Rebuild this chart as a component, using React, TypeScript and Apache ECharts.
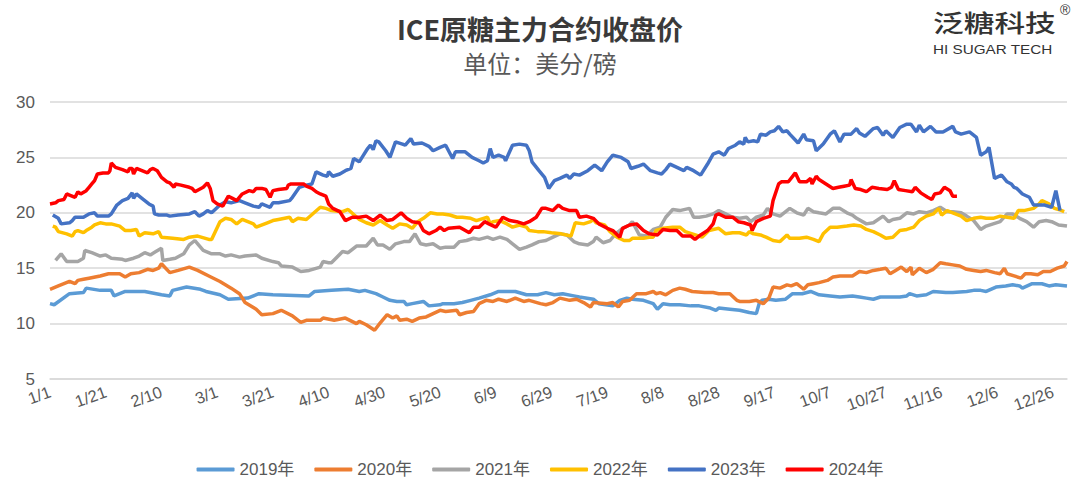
import { useEffect, useRef } from "react";
import * as echarts from "echarts";

// Series names and colours
const years = ["2019年", "2020年", "2021年", "2022年", "2023年", "2024年"];
const colors = ["#5B9BD5", "#ED7D31", "#A5A5A5", "#FFC000", "#4472C4", "#FF0000"];

// Day-of-year tick labels (leap-year calendar, 1/1 .. 12/31)
const dayLabels: string[] = [];
for (let i = 0; i < 366; i++) {
  const dt = new Date(2024, 0, 1 + i);
  dayLabels.push(`${dt.getMonth() + 1}/${dt.getDate()}`);
}

// Closing prices, [day of year, cents/lb]
const y2019: [number, number][] = [
  [0, 11.8], [1.5, 11.7], [7, 12.7], [12, 12.8], [13, 13.2], [18, 13.0], [22, 13.0], [23, 12.5], [27, 12.9], [34, 12.9],
  [40, 12.6], [43, 12.5], [44, 13.0], [49, 13.3], [54, 13.1], [56, 12.9], [61, 12.6], [64, 12.2], [71, 12.3], [75, 12.7],
  [80, 12.6], [93, 12.5], [95, 12.9], [101, 13.0], [107, 13.1], [111, 12.9], [113, 13.0], [117, 12.7], [119.5, 12.4],
  [122, 12.1], [124.5, 12.0], [127, 12.0], [128, 11.7], [130, 11.8], [134, 12.0], [136, 11.6], [140, 11.7], [141, 11.8],
  [145, 11.8], [148, 11.9], [151, 12.1], [154, 12.3], [158, 12.6], [161, 12.9], [165, 12.9], [167, 12.9], [171, 12.6],
  [175, 12.6], [178, 12.8], [181, 12.6], [184, 12.7], [188, 12.5], [190, 12.4], [195, 12.2], [197, 11.8], [202, 11.6],
  [204.5, 12.1], [207, 12.3], [209, 12.2], [213, 12.1], [216.5, 11.8], [218, 11.3], [220, 11.8], [222.5, 11.7],
  [226, 11.7], [230, 11.6], [233, 11.6], [237, 11.4], [239, 11.2], [240, 11.4], [244, 11.3], [247.5, 11.2], [251, 11.0],
  [253.5, 10.9], [254.5, 11.8], [255.5, 12.1], [258, 12.2], [260.5, 12.1], [264, 12.2], [266.5, 12.7], [270, 12.7],
  [273, 12.9], [276, 12.6], [280, 12.5], [283.5, 12.4], [288, 12.5], [290.5, 12.4], [293, 12.3], [295.5, 12.2],
  [298, 12.4], [301.5, 12.4], [305, 12.4], [307.5, 12.5], [308.5, 12.7], [311, 12.5], [314.5, 12.6], [317, 12.9],
  [321.5, 12.8], [324, 12.8], [329, 12.9], [331.5, 13.0], [334, 13.0], [336, 12.9], [339.5, 13.3], [343, 13.4],
  [345.5, 13.5], [348, 13.4], [349, 13.2], [352.5, 13.6], [356, 13.6], [358.5, 13.4], [361, 13.5], [365, 13.4],
];

const y2020: [number, number][] = [
  [0, 13.1], [3, 13.4], [7, 13.8], [9, 13.6], [10, 13.9], [12, 14.0], [14, 14.1], [18, 14.3], [21, 14.5], [25, 14.5],
  [27, 14.2], [29, 14.5], [32, 14.6], [35, 14.9], [37, 14.8], [39, 15.0], [40, 15.4], [43, 14.6], [46, 14.8], [50, 15.1],
  [53, 14.8], [57, 14.3], [61, 13.8], [65, 13.2], [68, 12.7], [70, 11.9], [74, 11.3], [76, 10.8], [80, 10.9], [83, 11.2],
  [87, 10.7], [90, 10.1], [92, 10.3], [97, 10.3], [98, 10.5], [102, 10.3], [106, 10.5], [110, 10.0], [111, 10.2],
  [113.5, 9.9], [116.5, 9.4], [118, 9.9], [121, 10.8], [123, 10.5], [124.5, 10.7], [125.5, 10.3], [128, 10.4],
  [130, 10.2], [132.5, 10.5], [135, 10.6], [137.5, 10.9], [140, 11.2], [142, 11.1], [146, 11.2], [147, 10.8],
  [149.5, 11.0], [152, 11.1], [154, 11.8], [156.5, 12.1], [159, 12.0], [161, 12.2], [164, 12.0], [167, 12.3],
  [170, 12.0], [172, 12.1], [176, 11.8], [178, 11.7], [180.5, 11.9], [183, 12.3], [186.5, 12.1], [189, 12.2],
  [191.5, 11.9], [194, 11.5], [195, 11.9], [200, 11.8], [202, 11.9], [204, 11.5], [205.5, 12.0], [208, 12.1],
  [210.5, 12.7], [214, 12.7], [216.5, 12.9], [217.5, 12.7], [219, 12.8], [221, 12.6], [223.5, 13.0], [226, 13.2],
  [228, 13.1], [230.5, 12.9], [235, 12.8], [238, 12.8], [240, 12.7], [244, 12.7], [246.5, 12.1], [247.5, 12.0],
  [251, 12.0], [253.5, 12.1], [256, 11.8], [258, 12.3], [259.5, 13.3], [262, 13.2], [264.5, 13.5], [266, 13.4],
  [268, 13.6], [270.5, 13.1], [272, 13.5], [274, 13.6], [276, 13.7], [279, 13.9], [281, 14.2], [283.5, 14.3],
  [286, 14.3], [288, 14.3], [290.5, 14.7], [293, 14.6], [295.5, 14.8], [298, 14.9], [300, 15.0], [301.5, 14.5],
  [303.5, 14.8], [305.5, 15.1], [307.5, 14.7], [309, 15.1], [309.5, 14.4], [312, 15.0], [314.5, 14.6], [317, 14.9],
  [319.5, 15.5], [321.5, 15.4], [324, 15.3], [326.5, 15.2], [329, 14.9], [331.5, 14.8], [334, 14.7], [336, 14.8],
  [339, 14.6], [341, 14.5], [342.5, 15.0], [343.5, 14.5], [346, 14.3], [348.5, 14.1], [350, 14.5], [352, 14.5],
  [354.5, 14.4], [356.5, 14.7], [359, 14.7], [361.5, 15.0], [364, 15.2], [365, 15.6],
];

const y2021: [number, number][] = [
  [2, 15.7], [3, 16.0], [4, 16.3], [6, 15.6], [8, 15.6], [10, 15.6], [12, 15.9], [12.5, 16.6], [15, 16.4], [18, 16.1],
  [20, 16.2], [22, 15.9], [26, 15.8], [27, 15.7], [30, 15.9], [32, 16.1], [34, 16.4], [36, 16.2], [38, 16.5], [40, 16.8],
  [40.5, 15.7], [43, 15.8], [45, 15.9], [48, 16.3], [50, 17.1], [52, 17.5], [53, 17.2], [55, 16.6], [58, 16.3],
  [61, 16.3], [63, 16.1], [65, 16.2], [68, 16.0], [70, 16.1], [74, 16.2], [76, 15.9], [80, 15.6], [82, 15.5],
  [83, 15.2], [87, 15.1], [90, 14.7], [93, 14.8], [97, 15.1], [98, 15.6], [100, 15.5], [101, 15.5], [105, 16.5],
  [107, 16.4], [110, 17.0], [113.5, 17.0], [116, 17.7], [117.5, 17.1], [119.5, 17.1], [122, 16.7], [124, 17.2],
  [127, 17.4], [129, 17.4], [131, 18.1], [133, 17.2], [135, 17.1], [137.5, 17.2], [140, 16.8], [142, 16.9],
  [145, 16.9], [147, 17.4], [149.5, 17.5], [152, 17.7], [154, 17.6], [157, 17.8], [159, 17.6], [161.5, 17.8],
  [164, 17.6], [166, 17.2], [168.5, 16.7], [171, 16.9], [173, 17.1], [175.5, 17.4], [178, 17.5], [180.5, 17.8],
  [183, 18.1], [185.5, 18.0], [188, 17.4], [190, 17.2], [193, 17.1], [195, 17.4], [196, 17.8], [198.5, 17.3],
  [201, 17.5], [203, 18.1], [205.5, 18.6], [208, 18.9], [209, 19.2], [211.5, 18.0], [214, 17.9], [216.5, 18.5],
  [219, 18.7], [221, 19.6], [223.5, 20.3], [226, 20.2], [229.5, 20.4], [231, 19.6], [233, 19.6], [235.5, 19.7],
  [238, 19.9], [240, 20.2], [242.5, 19.9], [245, 19.6], [247.5, 19.5], [250, 19.6], [251.5, 19.2], [253.5, 19.6],
  [256, 19.8], [257.5, 20.4], [259.5, 19.9], [262, 19.7], [265.5, 20.4], [268, 20.0], [270.5, 19.8], [272, 20.4],
  [274, 20.1], [276, 20.0], [278.5, 19.9], [281, 20.4], [283.5, 20.4], [286, 20.0], [288, 19.8], [289.5, 19.5],
  [293, 19.0], [295.5, 19.1], [299, 19.7], [301, 19.2], [302.5, 19.4], [305, 19.5], [307.5, 20.0], [310, 19.9],
  [312, 20.1], [314.5, 20.0], [317, 20.2], [319.5, 20.5], [322, 20.1], [324, 20.1], [327, 20.0], [329, 19.7],
  [331.5, 19.3], [334, 18.5], [336, 18.8], [338.5, 19.0], [341, 19.2], [343.5, 19.9], [345.5, 19.9], [348, 19.5],
  [350.5, 19.2], [353, 18.7], [355, 19.2], [357.5, 19.3], [359.5, 19.2], [362, 18.9], [365, 18.8],
];

const y2022: [number, number][] = [
  [1, 18.8], [2, 18.7], [3, 18.3], [6, 18.1], [8, 17.9], [9, 18.3], [10, 18.4], [12, 18.2], [13, 18.4], [15, 18.7],
  [16, 18.9], [18, 19.1], [20, 19.0], [22, 19.0], [25, 18.8], [27, 18.4], [29, 18.4], [31, 18.5], [32, 17.9],
  [34, 18.2], [37, 18.1], [39, 18.3], [40, 17.8], [44, 17.7], [48, 17.6], [50, 17.8], [53, 17.9], [57, 17.6],
  [58, 17.6], [61, 19.2], [63, 19.5], [65, 19.4], [67, 19.0], [69, 19.4], [73, 19.0], [74, 18.7], [78, 19.1],
  [80, 19.3], [82, 19.4], [86, 19.6], [87, 19.2], [89, 19.5], [92, 19.4], [97, 20.5], [99, 20.4], [101, 20.2],
  [105, 20.1], [107, 20.3], [111, 19.4], [113.5, 19.1], [116, 18.9], [118.5, 19.3], [121, 18.9], [123, 18.6],
  [125.5, 19.0], [128, 18.9], [130, 18.6], [132, 19.2], [134, 19.5], [136.5, 20.0], [139, 19.9], [141, 19.9],
  [143.5, 19.8], [146, 19.6], [148, 19.6], [151, 19.5], [153, 19.3], [157, 19.6], [158, 19.0], [159, 19.2],
  [161.5, 19.3], [164, 19.0], [166, 18.7], [168.5, 18.9], [171, 18.7], [172, 18.4], [175, 18.3], [177, 18.3],
  [180, 18.2], [183.5, 18.1], [187, 17.9], [188.5, 19.1], [191.5, 19.0], [194, 19.2], [195, 19.4], [196, 19.1],
  [199, 18.9], [201, 18.3], [203.5, 17.8], [206, 17.5], [208, 17.5], [209, 17.7], [213, 17.7], [215, 17.8],
  [216.5, 17.8], [217.5, 18.4], [220, 18.6], [223.5, 18.7], [226, 18.7], [228, 18.3], [230.5, 18.1], [233, 17.9],
  [234, 17.8], [236.5, 18.4], [240, 18.6], [242.5, 18.1], [245, 18.2], [247.5, 18.2], [250, 18.0], [251, 18.3],
  [252.5, 18.1], [255, 18.0], [257, 17.8], [259.5, 17.5], [262, 17.4], [264.5, 18.0], [265.5, 17.7], [269, 17.7],
  [271.5, 17.8], [274, 17.6], [276, 17.4], [277.5, 18.1], [280, 18.7], [282.5, 18.7], [286, 18.8], [288.5, 18.9],
  [291, 18.8], [293, 18.5], [295.5, 18.3], [298, 18.0], [300, 17.7], [302.5, 17.8], [305, 18.4], [307.5, 18.5],
  [310, 18.7], [312, 19.3], [314.5, 19.7], [317, 19.9], [319, 20.4], [320, 19.8], [322, 20.2], [324, 20.0],
  [327, 19.7], [329, 19.3], [331.5, 19.5], [334, 19.6], [336, 19.5], [338.5, 19.5], [341, 19.7], [343.5, 19.6],
  [346, 19.5], [347.5, 20.2], [349.5, 20.2], [353, 20.4], [355, 20.8], [356, 21.1], [358.5, 20.8], [360.5, 20.4],
  [362, 20.3], [364, 20.1],
];

const y2023: [number, number][] = [
  [1, 19.8], [3, 19.5], [4, 19.0], [7, 19.1], [8, 19.3], [9, 19.6], [12, 19.6], [14, 19.9], [16, 20.0], [17, 19.7],
  [21, 19.7], [22, 19.9], [24, 20.7], [26, 21.1], [28, 21.3], [29.5, 21.8], [30, 21.3], [31, 21.7], [33, 21.3],
  [35.5, 20.8], [37, 20.6], [37.5, 19.9], [39, 19.8], [42, 19.8], [43, 19.7], [46, 19.8], [50, 19.9], [52, 20.1],
  [53.5, 19.7], [55, 19.9], [56.5, 20.2], [58, 20.0], [61, 20.7], [63, 21.0], [65, 20.9], [68, 21.1], [70, 20.9],
  [73, 20.6], [75, 20.5], [76, 20.8], [79, 20.5], [80, 20.9], [82, 20.9], [86, 21.1], [87, 21.4], [89.5, 22.3],
  [92, 22.5], [94, 22.6], [95.5, 23.7], [98, 23.4], [99.5, 23.3], [100, 23.7], [101.5, 23.3], [104, 23.5], [106, 23.8],
  [108, 24.0], [109, 24.9], [111, 24.6], [112, 25.0], [114, 25.8], [115, 26.1], [116, 25.7], [117, 26.5], [118, 26.4],
  [120.5, 25.6], [122, 25.0], [124, 26.4], [126.5, 26.2], [127.5, 26.1], [129.5, 26.7], [130.5, 26.2], [133.5, 26.3],
  [136, 26.0], [137.5, 25.6], [140, 25.9], [142, 26.1], [144.5, 24.9], [145.5, 25.5], [149, 25.5], [151.5, 25.0],
  [154, 24.7], [155.5, 24.5], [157, 24.7], [158, 25.8], [159, 25.0], [161, 25.2], [163, 25.0], [163.5, 24.7],
  [166, 26.1], [168.5, 26.2], [171, 26.1], [172, 25.6], [173, 24.6], [175.5, 23.8], [177.5, 23.2], [179, 22.2],
  [181, 22.9], [183, 23.1], [185.5, 23.4], [186.5, 23.1], [188, 23.5], [190, 23.4], [193, 23.8], [195.5, 24.3],
  [198, 23.8], [200, 24.6], [202, 25.2], [205, 25.0], [207.5, 24.6], [208.5, 24.0], [211, 24.2], [213, 24.4],
  [215.5, 23.8], [218, 23.6], [219.5, 23.5], [221, 23.9], [222.5, 24.4], [225, 24.1], [227.5, 23.8], [228.5, 24.1],
  [231, 23.8], [233.5, 23.4], [236, 24.4], [238, 25.3], [240, 25.5], [242, 25.2], [243.5, 25.8], [246, 26.1],
  [247.5, 26.4], [249, 26.2], [249.5, 26.8], [250.5, 26.4], [252.5, 26.5], [254, 26.4], [255, 27.1], [257, 27.0],
  [258.5, 27.3], [260, 27.4], [261.5, 27.8], [263, 27.3], [264.5, 27.4], [265.5, 27.1], [268.5, 26.3], [270.5, 27.1],
  [271.5, 26.6], [274, 26.5], [275, 25.6], [277.5, 26.2], [280, 27.1], [281.5, 27.4], [283.5, 26.4], [285, 27.1],
  [287.5, 27.1], [289.5, 27.6], [290.5, 27.2], [292.5, 26.9], [295.5, 27.6], [297, 27.7], [299, 27.0], [300, 27.4],
  [302.5, 26.8], [305, 27.7], [307.5, 28.0], [309, 28.0], [311, 27.3], [312, 27.9], [313.5, 27.3], [316, 27.8],
  [318, 27.3], [320.5, 27.3], [324, 27.8], [325, 27.3], [327, 27.1], [330, 27.3], [332.5, 26.8], [334, 25.2],
  [336, 25.5], [337, 25.9], [339, 23.1], [341.5, 23.4], [343.5, 22.8], [345, 22.6], [346, 22.3], [347, 22.2],
  [349, 21.7], [351.5, 21.4], [353, 20.7], [355, 20.7], [357, 20.7], [359.5, 20.5], [361, 22.0], [362.5, 20.2],
];

const y2024: [number, number][] = [
  [0, 20.8], [2, 20.9], [3, 21.1], [5, 21.2], [6, 21.7], [7, 21.6], [9, 21.4], [10, 21.9], [11, 21.7], [13, 22.0],
  [14, 22.3], [15, 22.6], [16, 22.9], [17, 23.5], [19, 23.6], [21, 23.6], [21.5, 23.8], [22, 24.5], [23.5, 24.1],
  [26, 23.9], [28, 23.7], [28.5, 24.0], [29.5, 24.0], [30, 23.5], [31, 24.0], [33, 23.8], [35, 23.6], [36, 23.9],
  [37, 24.0], [38.5, 23.8], [40, 23.2], [42, 22.8], [43, 22.7], [44.5, 22.3], [45, 22.6], [47, 22.5], [50, 22.3],
  [51, 22.2], [52, 21.9], [53.5, 22.1], [55, 22.3], [56.5, 22.7], [57.5, 22.2], [58.5, 21.1], [60, 20.8], [62, 20.6],
  [64, 21.5], [65.5, 21.3], [67, 21.1], [69, 21.7], [71.5, 22.0], [73, 21.9], [74, 22.2], [76, 22.2], [77.5, 22.1],
  [79, 21.4], [80, 22.0], [82, 22.1], [85, 22.2], [85.5, 22.5], [86.5, 22.6], [87.5, 22.6], [90, 22.6], [91, 22.6],
  [92, 22.4], [94, 22.2], [95.5, 21.9], [97, 21.7], [99, 21.5], [100, 20.8], [101.5, 20.4], [104, 20.1], [106, 19.3],
  [108.5, 19.6], [111, 19.6], [113.5, 19.7], [116, 19.3], [118.5, 19.8], [121, 19.3], [123, 19.4], [126, 20.0],
  [128, 19.5], [130, 19.2], [132.5, 19.1], [134, 18.4], [136, 18.1], [138.5, 18.4], [140, 18.7], [141.5, 18.4],
  [143, 18.6], [147, 18.7], [150.5, 18.2], [152, 18.7], [154, 18.7], [156, 19.2], [157.5, 19.0], [160, 18.7],
  [162.5, 19.6], [165, 19.3], [167.5, 19.2], [170, 19.0], [172, 19.2], [174.5, 19.6], [176.5, 20.4], [178, 20.4],
  [180.5, 20.2], [182.5, 20.7], [184, 20.4], [186.5, 20.2], [189, 20.2], [190, 19.6], [192.5, 19.7], [195, 19.5],
  [197, 19.0], [200, 18.6], [202, 18.4], [204.5, 17.8], [205.5, 18.6], [208, 18.9], [210.5, 19.0], [213, 18.4],
  [215, 18.1], [218, 18.0], [220, 18.5], [222.5, 18.4], [225, 18.4], [227, 17.9], [230, 17.9], [231.5, 17.6],
  [233.5, 18.0], [236, 18.4], [238, 19.0], [239, 19.8], [240, 19.9], [242.5, 19.6], [245, 19.6], [247, 19.2],
  [249, 19.1], [251.5, 18.9], [252, 18.4], [253.5, 19.2], [256, 19.5], [258.5, 19.7], [259.5, 21.1], [261.5, 22.6],
  [262.5, 22.8], [265, 22.8], [267.5, 23.6], [269, 22.8], [271.5, 22.8], [273, 23.1], [273.5, 22.6], [275, 23.3],
  [276, 23.0], [278.5, 22.6], [281, 22.2], [283, 22.3], [285, 22.4], [287, 22.5], [287.5, 23.0], [289, 22.2],
  [291, 22.1], [293, 21.9], [295, 22.3], [297.5, 22.2], [300.5, 22.1], [302, 22.3], [303, 22.9], [304.5, 22.1],
  [307, 22.0], [309.5, 21.9], [310.5, 22.3], [312.5, 21.8], [315, 21.4], [316.5, 21.2], [317.5, 21.7], [319.5, 21.8],
  [321, 22.3], [323, 22.0], [324, 21.5], [325.5, 21.5],
];

const seriesData = [y2019, y2020, y2021, y2022, y2023, y2024];

// Y-axis scale (cents/lb)
const yMin = 5;
const yMax = 30;
const yStep = 5;

export default function App() {
  const ref = useRef<HTMLDivElement>(null);

  useEffect(() => {
    if (!ref.current) return;
    const chart = echarts.init(ref.current, undefined, { renderer: "svg" });
    const cjk = "'Noto Sans CJK SC', 'Noto Sans', sans-serif";
    const latin = "'Liberation Sans', Arial, 'Noto Sans CJK SC', sans-serif";

    chart.setOption({
      animation: false,
      backgroundColor: "#ffffff",
      title: {
        text: "ICE原糖主力合约收盘价",
        subtext: "单位：美分/磅",
        left: "center",
        top: 10,
        itemGap: 9,
        textStyle: { fontFamily: cjk, fontSize: 27, fontWeight: "bold", color: "#3a3a3a" },
        subtextStyle: { fontFamily: cjk, fontSize: 24, color: "#595959" },
      },
      graphic: [
        {
          type: "text",
          x: 933,
          y: 10,
          scaleX: 1.28,
          style: {
            text: "泛糖科技",
            fontFamily: cjk,
            fontSize: 24,
            fontWeight: 500,
            fill: "#333333",
            align: "left",
            verticalAlign: "top",
          },
        },
        {
          type: "text",
          x: 933,
          y: 43,
          scaleX: 1.22,
          style: {
            text: "HI SUGAR TECH",
            fontFamily: latin,
            fontSize: 12.5,
            fill: "#333333",
            align: "left",
            verticalAlign: "top",
          },
        },
        {
          type: "text",
          x: 1060,
          y: 3,
          style: { text: "®", fontFamily: latin, fontSize: 14, fill: "#333333", align: "left", verticalAlign: "top" },
        },
      ],
      legend: {
        bottom: 14,
        left: "center",
        icon: "roundRect",
        itemWidth: 38,
        itemHeight: 4,
        itemGap: 20,
        textStyle: { fontFamily: latin, fontSize: 17, color: "#595959" },
        data: years,
      },
      grid: { left: 50, right: 13, top: 102, bottom: 118, containLabel: false },
      xAxis: {
        type: "value",
        min: 0,
        max: 365,
        interval: 20,
        axisLine: { show: true, lineStyle: { color: "#d9d9d9", width: 1.5 } },
        axisTick: { show: false },
        splitLine: { show: false },
        axisLabel: {
          rotate: 20,
          margin: 12,
          showMaxLabel: false,
          fontFamily: latin,
          fontSize: 16.5,
          color: "#595959",
          formatter: (v: number) => dayLabels[v] ?? "",
        },
      },
      yAxis: {
        type: "value",
        min: yMin,
        max: yMax,
        interval: yStep,
        axisLine: { show: false },
        axisTick: { show: false },
        splitLine: { lineStyle: { color: "#d9d9d9", width: 1.5 } },
        axisLabel: { fontFamily: latin, fontSize: 17, color: "#595959", margin: 15 },
      },
      series: years.map((name, i) => ({
        name,
        type: "line",
        data: seriesData[i],
        showSymbol: false,
        symbol: "none",
        smooth: false,
        color: colors[i],
        lineStyle: { width: 3.5, color: colors[i] },
        z: 2 + i,
      })),
    });

    return () => chart.dispose();
  }, []);

  return (
    <div
      ref={ref}
      style={{ position: "fixed", left: 0, top: 0, width: 1080, height: 497, background: "#fff" }}
    />
  );
}
